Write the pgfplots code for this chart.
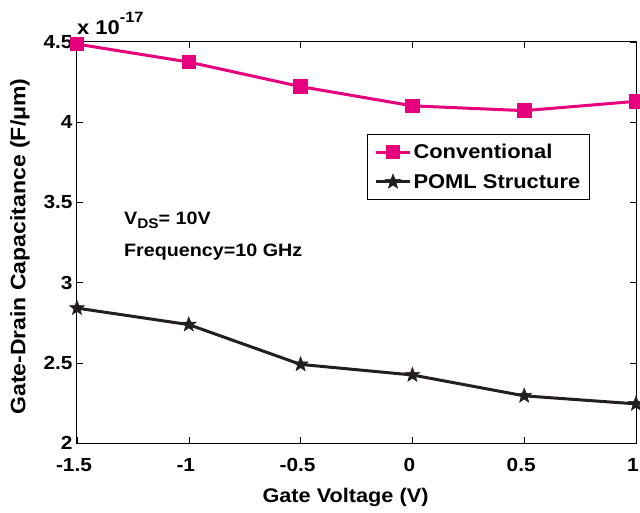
\documentclass[border=0pt]{standalone}
\usepackage{pgfplots}
\pgfplotsset{compat=1.18}
\usepackage{fontspec}
\setmainfont[FakeStretch=1.1]{Liberation Sans}
\definecolor{pinkc}{RGB}{230,0,126}
\definecolor{darkc}{RGB}{35,31,32}
\pgfdeclareplotmark{fstar}{%
  \pgfpathmoveto{\pgfpointpolar{90}{\pgfplotmarksize}}%
  \pgfpathlineto{\pgfpointpolar{126}{0.42\pgfplotmarksize}}%
  \pgfpathlineto{\pgfpointpolar{162}{\pgfplotmarksize}}%
  \pgfpathlineto{\pgfpointpolar{198}{0.42\pgfplotmarksize}}%
  \pgfpathlineto{\pgfpointpolar{234}{\pgfplotmarksize}}%
  \pgfpathlineto{\pgfpointpolar{270}{0.42\pgfplotmarksize}}%
  \pgfpathlineto{\pgfpointpolar{306}{\pgfplotmarksize}}%
  \pgfpathlineto{\pgfpointpolar{342}{0.42\pgfplotmarksize}}%
  \pgfpathlineto{\pgfpointpolar{18}{\pgfplotmarksize}}%
  \pgfpathlineto{\pgfpointpolar{54}{0.42\pgfplotmarksize}}%
  \pgfpathclose
  \pgfusepathqfillstroke}
\begin{document}
\begin{tikzpicture}
\begin{axis}[
  scale only axis, width=559bp, height=401bp,
  xmin=-1.5, xmax=1, ymin=2, ymax=4.5,
  xtick={-1.5,-1,-0.5,0,0.5,1},
  ytick={2,2.5,3,3.5,4,4.5},
  xticklabels={-1.5,-1,-0.5,0,0.5,1},
  yticklabels={2,2.5,3,3.5,4,4.5},
  tick align=inside, major tick length=6bp,
  tick style={black, line width=0.6bp},
  axis line style={black, line width=1bp},
  tick label style={font=\fontsize{19}{19}\selectfont\bfseries},
  xticklabel style={anchor=center, yshift=-22bp, xshift=-3bp},
  yticklabel style={anchor=east, xshift=-1bp},
  xlabel={\bfseries Gate Voltage (V)},
  ylabel={\bfseries Gate-Drain Capacitance (F/μm)},
  xlabel style={font=\fontsize{19.8}{19.8}\selectfont, at={(rel axis cs:0.5,0)}, anchor=center, yshift=-54bp, xshift=-11bp},
  ylabel style={font=\fontsize{21}{21}\selectfont, at={(rel axis cs:-0.102,0.49)}, anchor=center},
  clip=false,
  legend style={at={(0.519,0.771)}, anchor=north west, draw=black, line width=0.8bp,
    font=\fontsize{20}{20}\selectfont\bfseries, cells={anchor=west},
    inner xsep=7bp, inner ysep=8bp, row sep=10bp},
  legend image code/.code={\draw[#1, mark repeat=2, mark phase=2] plot coordinates {(0bp,0bp)(17bp,0bp)(34bp,0bp)};},
]
\addplot[color=pinkc, line width=3bp, mark=square*, mark size=5.8bp, mark options={solid}]
  coordinates {(-1.5,4.487) (-1,4.375) (-0.5,4.222) (0,4.102) (0.5,4.072) (1,4.130)};
\addlegendentry{Conventional}
\addplot[color=darkc, line width=3bp, mark=fstar, mark size=7.8bp, mark options={solid, fill=darkc, line width=0.5bp}]
  coordinates {(-1.5,2.841) (-1,2.738) (-0.5,2.490) (0,2.424) (0.5,2.294) (1,2.244)};
\addlegendentry{POML Structure}
\node[anchor=base west, font=\fontsize{18}{18}\selectfont\bfseries, inner sep=0pt] at (axis cs:-1.29,3.365) {V\raisebox{-0.5ex}{\fontsize{14}{14}\selectfont DS}= 10V};
\node[anchor=base west, font=\fontsize{18}{18}\selectfont\bfseries, inner sep=0pt] at (axis cs:-1.29,3.16) {Frequency=10 GHz};
\node[anchor=base west, inner sep=0pt, font=\fontsize{20}{20}\selectfont\bfseries] at ([yshift=7bp]rel axis cs:0,1) {x 10\raisebox{1.2ex}{\fontsize{15}{15}\selectfont -17}};
\coordinate (bl) at (rel axis cs:0,0);
\coordinate (tr) at (rel axis cs:1,1);
\end{axis}
\pgfresetboundingbox
\path[use as bounding box] ([shift={(-77bp,-70bp)}]bl) rectangle ([shift={(4bp,42bp)}]tr);
\end{tikzpicture}
\end{document}
